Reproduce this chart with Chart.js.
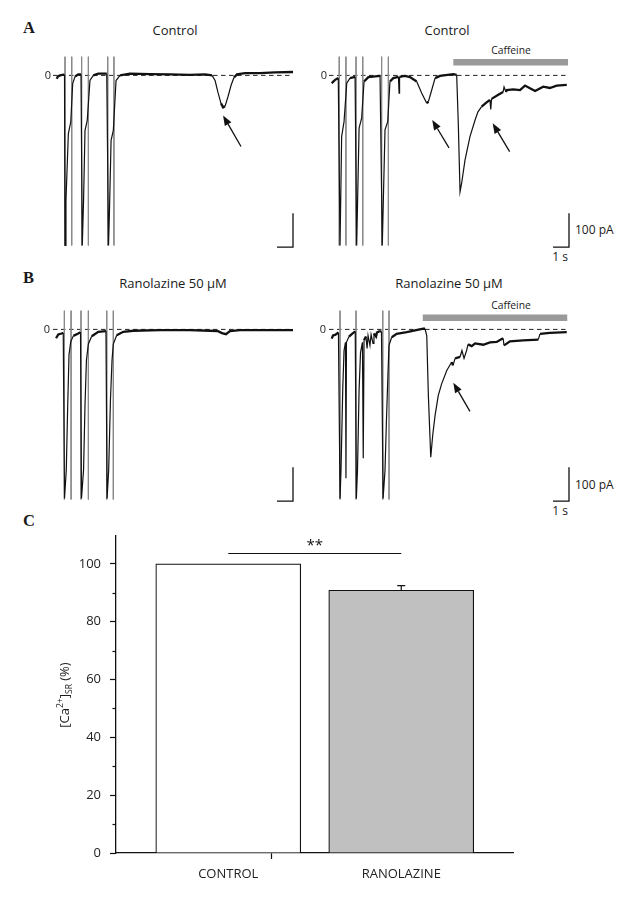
<!DOCTYPE html>
<html><head><meta charset="utf-8">
<script src="https://cdn.jsdelivr.net/npm/chart.js@4.4.1/dist/chart.umd.min.js"></script>
<style>
html,body{margin:0;padding:0;background:#fff;}
body{width:633px;height:900px;position:relative;overflow:hidden;font-family:'Open Sans',sans-serif;color:#1a1a1a;}
canvas{position:absolute;}
.t{position:absolute;white-space:nowrap;line-height:1;transform:translate(-50%,-50%);}
.l{position:absolute;white-space:nowrap;line-height:1;transform:translate(0,-50%);}
.p{font-family:'Liberation Serif',serif;font-weight:bold;font-size:16.5px;}
.yt{color:#1a1a1a;filter:grayscale(100%);-webkit-font-smoothing:antialiased;}
sup,sub{font-size:8.5px;line-height:0;}
</style></head><body>
<div class="l p" style="left:23px;top:28px">A</div>
<div class="l p" style="left:23px;top:278px">B</div>
<div class="l p" style="left:23px;top:521px">C</div>
<div class="t" style="left:175px;top:29.5px;font-size:13px">Control</div>
<div class="t" style="left:447px;top:29.5px;font-size:13px">Control</div>
<div class="t" style="left:173px;top:282.5px;font-size:13px">Ranolazine 50 μM</div>
<div class="t" style="left:449px;top:282.5px;font-size:13px">Ranolazine 50 μM</div>
<div class="t" style="left:511px;top:50px;font-size:10.3px">Caffeine</div>
<div class="t" style="left:511px;top:305px;font-size:10.3px">Caffeine</div>
<div class="l" style="left:575px;top:230px;font-size:12px">100 pA</div>
<div class="l" style="left:575px;top:485px;font-size:12px">100 pA</div>
<div class="t" style="left:560px;top:257px;font-size:12px">1 s</div>
<div class="t" style="left:560px;top:511px;font-size:12px">1 s</div>
<div class="t yt" style="left:64px;top:695px;transform:translate(-50%,-50%) rotate(-90deg);font-size:13px">[Ca<sup>2+</sup>]<sub>SR</sub> (%)</div>

<canvas id="aL" width="264" height="201" style="left:33px;top:55px;width:264px;height:201px"></canvas>
<canvas id="aR" width="264" height="201" style="left:309px;top:55px;width:264px;height:201px"></canvas>
<canvas id="bL" width="264" height="201" style="left:33px;top:309px;width:264px;height:201px"></canvas>
<canvas id="bR" width="264" height="201" style="left:309px;top:309px;width:264px;height:201px"></canvas>
<canvas id="cC" width="450" height="358" style="left:80px;top:535px;width:450px;height:358px"></canvas>

<script>
// ---------- Panel A, left (Control) : time (s), current (pA)
const aLeftT = [0.23,0.31,0.44,0.64,0.72,0.75,0.81,0.96,1.11,1.23,1.38,1.58,1.75,1.83,1.91,2.0,2.14,2.31,2.52,2.83,3.36,3.47,3.53,3.63,3.77,3.94,4.19,4.81,6.06,7.31,8.56,9.5,9.94,10.13,10.31,10.5,10.63,10.75,10.94,11.13,11.31,11.5,12.0,12.94,13.88,15.0];
const aLeftI = [-10,-3,0,2,1.5,-500,-368,-171,-137,-24,-3,3,3,-500,-368,-162,-132,-15,0,5,5,-500,-397,-191,-162,-15,0,5,4,3,1.5,3,0,-15,-50,-82,-94,-91,-62,-29,-6,3,7,7,9,10];
const aLeftArtifactT = [0.75,1.17,1.79,2.21,3.42,3.81];
const aLeftArrows = [[11.75,-209,10.63,-118]];

// ---------- Panel A, right (Control + caffeine)
const aRightT = [0.17,0.25,0.38,0.58,0.69,0.79,0.94,1.11,1.31,1.63,1.73,1.88,2.04,2.19,2.46,3.19,3.33,3.5,3.67,3.81,4.02,4.34,4.38,4.41,4.75,5.06,5.48,5.79,6.11,6.21,6.42,6.63,6.94,7.77,7.98,8.08,8.19,8.29,8.5,8.81,9.13,9.31,9.54,9.81,10.06,10.11,10.16,10.58,10.88,10.94,11.06,11.11,11.52,11.94,12.25,12.56,12.88,13.39,13.8,14.23,14.86];
const aRightI = [-23,-19,-13,-8,-500,-180,-136,-23,-8,-4,-500,-155,-126,-18,-5,-1.5,-500,-160,-136,-18,-8,-4,-52,-4,-1.5,-5,-18,-52,-82,-77,-43,-8,-1.5,3.5,1.5,-140,-342,-317,-249,-180,-131,-107,-92,-81,-72,-100,-69,-57,-49,-34,-49,-43,-41,-43,-30,-38,-46,-33,-37,-30,-28];
const aRightArtifactT = [0.64,1.06,1.69,2.11,3.29,3.71];
const aCaffeine = [7.77,14.94,39];
const aRightArrows = [[7.5,-213,6.45,-131],[11.29,-224,10.23,-141]];

// ---------- Panel B, left (Ranolazine 50 uM)
const bLeftT = [0.19,0.33,0.54,0.64,0.72,0.83,0.92,1.0,1.11,1.27,1.58,1.72,1.78,1.91,2.0,2.09,2.21,2.42,2.83,3.31,3.38,3.48,3.59,3.69,3.77,3.98,4.39,5.02,6.69,8.56,9.81,10.31,10.56,10.81,11.06,11.69,12.94,15.0];
const bLeftI = [-26,-15,-12,-10,-497,-413,-223,-75,-36,-19,-12,-8,-497,-413,-223,-90,-43,-20,-7,-5,-497,-413,-208,-90,-43,-17,-7,-4,-2,-2,-4,-5,-11,-14,-5,-2,-2,-2];
const bLeftArtifactT = [0.71,1.13,1.75,2.21,3.36,3.77];

// ---------- Panel B, right (Ranolazine + caffeine)
const bRightT = [0.17,0.25,0.38,0.59,0.69,0.75,0.86,0.94,1.03,1.06,1.09,1.25,1.44,1.64,1.71,1.78,1.88,1.97,2.09,2.14,2.19,2.31,2.38,2.44,2.56,2.63,2.75,2.81,2.94,3.0,3.13,3.28,3.38,3.5,3.59,3.69,3.75,3.92,4.23,4.86,5.38,5.89,6.0,6.11,6.21,6.36,6.48,6.63,6.83,7.04,7.36,7.67,7.75,7.88,8.19,8.31,8.44,8.6,8.69,8.92,9.13,9.64,10.06,10.48,10.88,10.94,11.31,12.14,13.08,13.19,13.81,14.86];
const bRightI = [-27,-18,-16,-9,-497,-415,-174,-62,-38,-438,-38,-21,-13,-6,-497,-415,-179,-68,-38,-379,-32,-21,-56,-18,-47,-15,-41,-12,-21,-9,-6,-6,-497,-415,-268,-126,-47,-23,-13,-8,-3,2,2,-18,-194,-376,-312,-253,-194,-160,-121,-96,-106,-85,-81,-62,-85,-62,-44,-49,-41,-45,-38,-37,-26,-47,-35,-32,-30,-13,-10,-8];
const bRightArtifactT = [0.69,1.69,3.36,3.75];
const bCaffeine = [5.86,14.89,34];
const bRightArrows = [[8.81,-241,7.77,-157]];

// ---------- shared trace annotations
const artifactRange = [55, -500];   // pA (top, bottom of stimulus artefacts)
const zeroLineT = [0, 15];
const scaleBarT = [14, 15, 15];     // 1 s
const scaleBarI = [-505, -505, -405]; // 100 pA
const traceYMin = -531, traceYMax = 60, traceTMax = 15.25;

// ---------- Panel C bar chart
const barCategories = ['CONTROL', 'RANOLAZINE'];
const barValues = [100, 90.9];
const barErrors = [0, 1.6];
const barPos = [1, 2];
const barColors = ['#ffffff', '#c0c0c0'];
const yMajorTicks = [0, 20, 40, 60, 80, 100];
const yMinorTicks = [10, 30, 50, 70, 90];
const signif = {from: 1.0, to: 2.0, level: 103.7, label: '**'};

// ---------- helpers
const pts = (T, I) => T.map((t, i) => ({x: t, y: I[i]}));
const artPts = T => T.flatMap(t => [{x: t, y: artifactRange[0]}, {x: t, y: artifactRange[1]}, {x: t, y: null}]);

function arrowPlugin(list) {
  return {id: 'arrows', afterDatasetsDraw(chart) {
    const xs = chart.scales.x, ys = chart.scales.y, c = chart.ctx;
    c.save(); c.strokeStyle = '#111'; c.fillStyle = '#111'; c.lineWidth = 1.3;
    list.forEach(a => {
      const x1 = xs.getPixelForValue(a[0]), y1 = ys.getPixelForValue(a[1]);
      const x2 = xs.getPixelForValue(a[2]), y2 = ys.getPixelForValue(a[3]);
      const ang = Math.atan2(y2 - y1, x2 - x1), L = 10, W = 3.8;
      const bx = x2 - L * Math.cos(ang), by = y2 - L * Math.sin(ang);
      c.beginPath(); c.moveTo(x1, y1); c.lineTo(bx, by); c.stroke();
      c.beginPath(); c.moveTo(x2, y2);
      c.lineTo(bx - W * Math.sin(ang), by + W * Math.cos(ang));
      c.lineTo(bx + W * Math.sin(ang), by - W * Math.cos(ang));
      c.closePath(); c.fill();
    });
    c.restore();
  }};
}

function tracePanel(id, T, I, artT, arrows, caffeine, tickPad) {
  const ds = [
    {data: pts(T, I), borderColor: '#111', borderWidth: 1.3,
     segment: {borderWidth: ctx => Math.abs(ctx.p1.parsed.y - ctx.p0.parsed.y) < 14 ? 2.3 : 1.2}},
    {data: artPts(artT), borderColor: '#8a8a8a', borderWidth: 1, spanGaps: false},
    {data: pts(zeroLineT, [0, 0]), borderColor: '#222', borderWidth: 1, borderDash: [4.5, 3.5]},
    {data: pts(scaleBarT, scaleBarI), borderColor: '#111', borderWidth: 1.3, borderJoinStyle: 'miter'}
  ];
  if (caffeine) ds.push({data: pts([caffeine[0], caffeine[1]], [caffeine[2], caffeine[2]]), borderColor: '#9a9a9a', borderWidth: 6.5});
  new Chart(document.getElementById(id), {
    type: 'line',
    data: {datasets: ds},
    options: {
      responsive: false, animation: false, events: [],
      layout: {padding: 0},
      elements: {point: {radius: 0}, line: {tension: 0, borderCapStyle: 'butt'}},
      plugins: {legend: {display: false}, tooltip: {enabled: false}},
      scales: {
        x: {type: 'linear', display: false, min: 0, max: traceTMax},
        y: {type: 'linear', min: traceYMin, max: traceYMax,
            grid: {display: false, drawTicks: false}, border: {display: false},
            ticks: {padding: tickPad, color: '#222', font: {family: 'Open Sans', size: 11}, callback: v => String(v)},
            afterBuildTicks: s => { s.ticks = [{value: 0}]; },
            afterFit: s => { s.width = 20; s.paddingTop = 0; s.paddingBottom = 0; }}
      }
    },
    plugins: [arrowPlugin(arrows)]
  });
}

tracePanel('aL', aLeftT, aLeftI, aLeftArtifactT, aLeftArrows, null, 2);
tracePanel('aR', aRightT, aRightI, aRightArtifactT, aRightArrows, aCaffeine, 2);
tracePanel('bL', bLeftT, bLeftI, bLeftArtifactT, [], null, 3);
tracePanel('bR', bRightT, bRightI, bRightArtifactT, bRightArrows, bCaffeine, 3);

// ---------- bar chart
const barExtras = {id: 'barExtras', afterDatasetsDraw(chart) {
  const xs = chart.scales.x, ys = chart.scales.y, c = chart.ctx, a = chart.chartArea;
  c.save(); c.strokeStyle = '#111'; c.fillStyle = '#111'; c.lineWidth = 1.2;
  // minor ticks
  yMinorTicks.forEach(v => { const y = Math.round(ys.getPixelForValue(v)) + 0.5;
    c.beginPath(); c.moveTo(a.left - 3.5, y); c.lineTo(a.left, y); c.stroke(); });
  // error bars
  barValues.forEach((v, i) => { if (!barErrors[i]) return;
    const x = xs.getPixelForValue(barPos[i]), y0 = ys.getPixelForValue(v), y1 = ys.getPixelForValue(v + barErrors[i]);
    c.beginPath(); c.moveTo(x, y0); c.lineTo(x, y1); c.moveTo(x - 4, y1); c.lineTo(x + 4, y1); c.stroke(); });
  // significance
  const sy = Math.round(ys.getPixelForValue(signif.level)) + 0.5;
  c.beginPath(); c.moveTo(xs.getPixelForValue(signif.from), sy); c.lineTo(xs.getPixelForValue(signif.to), sy); c.stroke();
  c.font = '15px "Open Sans"'; c.textAlign = 'center'; c.textBaseline = 'middle';
  c.fillText(signif.label, xs.getPixelForValue((signif.from + signif.to) / 2), sy - 8);
  c.restore();
}};

new Chart(document.getElementById('cC'), {
  type: 'bar',
  data: {datasets: [{
    data: barPos.map((x, i) => ({x: x, y: barValues[i]})),
    backgroundColor: barColors, borderColor: '#111', borderWidth: 1.2, barThickness: 145
  }]},
  options: {
    responsive: false, animation: false, events: [],
    layout: {padding: {left: 0, right: 17, top: 0, bottom: 0}},
    plugins: {legend: {display: false}, tooltip: {enabled: false}},
    scales: {
      x: {type: 'linear', min: 0.351, max: 2.646, offset: false,
          grid: {display: true, drawOnChartArea: false, tickLength: 6, tickWidth: 1.2,
                 tickColor: ctx => (ctx.tick && ctx.tick.value === 1.5) ? '#111' : 'rgba(0,0,0,0)'},
          border: {display: true, color: '#111', width: 1.3},
          ticks: {autoSkip: false, maxRotation: 0, padding: 7, color: '#222', font: {family: 'Open Sans', size: 13},
                  callback: v => { const i = barPos.indexOf(v); return i >= 0 ? barCategories[i] : ''; }},
          afterBuildTicks: s => { s.ticks = [barPos[0], (barPos[0] + barPos[1]) / 2, barPos[1]].map(v => ({value: v})); },
          afterFit: s => { s.height = 40; s.paddingLeft = 0; s.paddingRight = 0; }},
      y: {type: 'linear', min: 0, max: 110,
          grid: {display: true, drawOnChartArea: false, tickLength: 6, tickWidth: 1.2, tickColor: '#111'},
          border: {display: true, color: '#111', width: 1.3},
          ticks: {padding: 9, color: '#222', font: {family: 'Open Sans', size: 13}, callback: v => String(v)},
          afterBuildTicks: s => { s.ticks = yMajorTicks.map(v => ({value: v})); },
          afterFit: s => { s.width = 36; s.paddingTop = 0; s.paddingBottom = 0; }}
    }
  },
  plugins: [barExtras]
});
</script>
</body></html>
